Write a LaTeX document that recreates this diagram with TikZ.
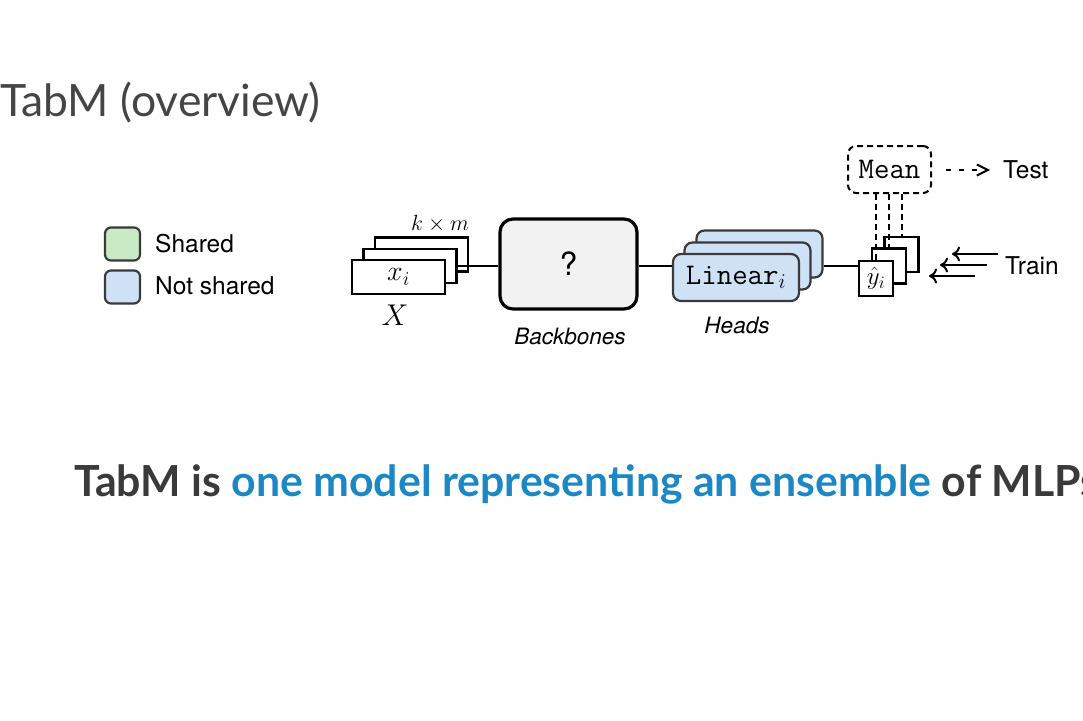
\RequirePackage{fix-cm}
\documentclass[tikz,border=0pt]{standalone}
\usepackage{fontspec}
\usetikzlibrary{arrows.meta}
\newfontfamily\lato{Lato}
\newfontfamily\heros{TeX Gyre Heros}
\definecolor{titlegray}{HTML}{454545}
\definecolor{bodygray}{HTML}{3A3A3A}
\definecolor{accentblue}{HTML}{1B88C5}
\definecolor{sharedgreen}{HTML}{C8EBC6}
\definecolor{notsharedblue}{HTML}{CFE2F5}
\definecolor{edgegray}{HTML}{3A3A3A}
\definecolor{bbfill}{HTML}{F2F2F2}
\newcommand{\fsz}[1]{\fontsize{#1}{#1}\selectfont}
\begin{document}
\begin{tikzpicture}[x=1pt,y=-1pt,
  inbox/.style={draw=black,line width=2.2pt,fill=white,minimum width=93pt,minimum height=34pt,inner sep=0pt},
  headbox/.style={draw=edgegray,line width=2.2pt,fill=notsharedblue,rounded corners=8pt,minimum width=126pt,minimum height=47pt,inner sep=0pt},
  ybox/.style={draw=black,line width=2.2pt,fill=white,minimum width=34pt,minimum height=35pt,inner sep=0pt},
  legbox/.style={draw=edgegray,line width=2.2pt,rounded corners=6pt,minimum width=35pt,minimum height=33pt,inner sep=0pt},
  link/.style={line width=2pt},
  dashlink/.style={line width=2pt,dash pattern=on 6pt off 4pt},
  sanslabel/.style={inner sep=0pt,font=\heros\fsz{24.5}},
  itlabel/.style={inner sep=0pt,font=\heros\itshape\fsz{22.5}}]
\useasboundingbox (0,0) rectangle (1083,720);
\clip (0,0) rectangle (1083,720);
\fill[white] (0,0) rectangle (1083,720);

% title
\node[anchor=base west,inner sep=0pt,text=titlegray,font=\lato\fsz{44.5}] (title) at (0,116) {TabM (overview)};

% bottom statement
\node[anchor=base west,inner sep=0pt,text=bodygray,font=\lato\bfseries\fsz{42.8}] (statement) at (74,496)
  {TabM is \textcolor{accentblue}{one model representing an ensemble} of MLPs};

% legend
\node[legbox,fill=sharedgreen] (legshared) at (122.5,244) {};
\node[legbox,fill=notsharedblue] (legnot) at (122.5,287) {};
\node[sanslabel,anchor=west] (legsharedtxt) at (155,244) {Shared};
\node[sanslabel,anchor=west] (legnottxt) at (155,286) {Not shared};

% input stack
\node[inbox] (inback) at (421.5,254.5) {};
\node[inbox] (inmid) at (410,266) {};
\node[inbox,font=\fsz{28}] (infront) at (398.5,277) {$x_i$};
\node[inner sep=0pt,font=\fsz{22}] (kxm) at (440,224) {$k\times m$};
\node[inner sep=0pt,font=\fsz{30}] (Xlab) at (395,315) {$X$};

% backbone
\node[draw=black,line width=3.2pt,fill=bbfill,rounded corners=13pt,minimum width=137pt,minimum height=90pt,inner sep=0pt,font=\heros\fsz{32}] (bb) at (568.5,264) {?};
\node[itlabel] (bblab) at (570,336) {Backbones};
\draw[link] (inmid.east) -- (inmid.east -| bb.west);

% heads
\draw[link] (bb.east |- inmid.east) -- (747.5,266) coordinate (headlinkend);
\node[headbox] (hback) at (759.5,254) {};
\node[headbox] (hmid) at (747.5,266) {};
\node[headbox,font=\fsz{30}] (hfront) at (736,277.5) {$\texttt{Linear}_i$};
\node[itlabel] (hlab) at (737,325) {Heads};

% outputs
\draw[link] (hback.east |- hmid.center) -- (889,266);
\node[ybox] (yback) at (901.5,254.5) {};
\node[ybox] (ymid) at (889,266) {};
\node[ybox,font=\fsz{25}] (yfront) at (876,278.5) {$\hat{y}_i$};

% mean
\node[draw=black,line width=2pt,dash pattern=on 6pt off 4pt,rounded corners=8pt,minimum width=83pt,minimum height=47pt,inner sep=0pt,font=\ttfamily\fsz{30}] (mean) at (889.5,169.5) {Mean};
\draw[dashlink] (mean.south -| yfront.north) -- (yfront.north);
\draw[dashlink] (mean.south -| ymid.north) -- (ymid.north);
\draw[dashlink] (mean.south -| yback.north) -- (yback.north);

% test
\node[sanslabel,anchor=west] (test) at (1003,170) {Test};
\draw[link,dash pattern=on 5pt off 8pt,-{Straight Barb[length=11pt,width=11pt,line width=2pt]},shorten <=14pt,shorten >=13pt] (mean.east |- test.west) -- (test.west);

% train
\node[sanslabel,anchor=west] (train) at (1005,266) {Train};
\coordinate (tr1s) at (998,254); \coordinate (tr1e) at (952,254);
\coordinate (tr2s) at (987,265); \coordinate (tr2e) at (940,265);
\coordinate (tr3s) at (975,276); \coordinate (tr3e) at (929,276);
\draw[link,-{To[length=8pt,width=15pt]}] (tr1s) -- (tr1e);
\draw[link,-{To[length=8pt,width=15pt]}] (tr2s) -- (tr2e);
\draw[link,-{To[length=8pt,width=15pt]}] (tr3s) -- (tr3e);
\end{tikzpicture}
\end{document}
